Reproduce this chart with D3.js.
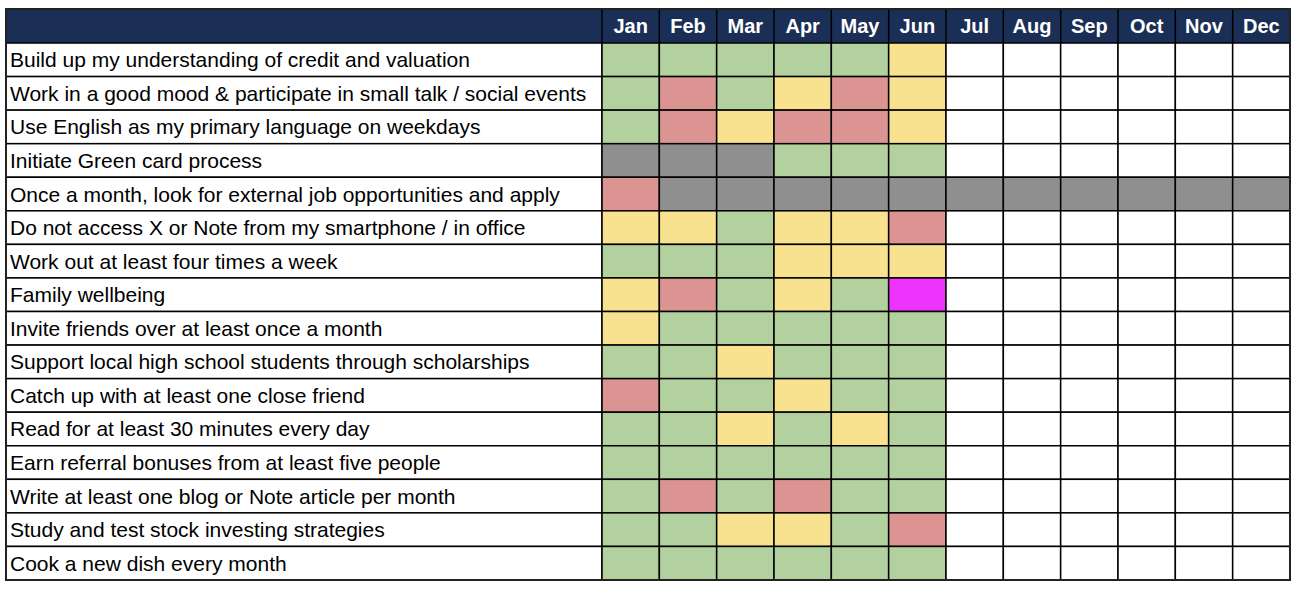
<!DOCTYPE html>
<html><head><meta charset="utf-8">
<script src="https://cdn.jsdelivr.net/npm/d3@7"></script>
<style>body{margin:0;background:#fff;}svg{display:block;}</style>
</head><body>
<svg id="c" width="1299" height="590"></svg>
<script>
const months = ["Jan","Feb","Mar","Apr","May","Jun","Jul","Aug","Sep","Oct","Nov","Dec"];
const goals = [
  "Build up my understanding of credit and valuation",
  "Work in a good mood & participate in small talk / social events",
  "Use English as my primary language on weekdays",
  "Initiate Green card process",
  "Once a month, look for external job opportunities and apply",
  "Do not access X or Note from my smartphone / in office",
  "Work out at least four times a week",
  "Family wellbeing",
  "Invite friends over at least once a month",
  "Support local high school students through scholarships",
  "Catch up with at least one close friend",
  "Read for at least 30 minutes every day",
  "Earn referral bonuses from at least five people",
  "Write at least one blog or Note article per month",
  "Study and test stock investing strategies",
  "Cook a new dish every month"
];
// status per goal per month: G good, Y partial, R missed, X n/a, M special, "" not yet
const status = [
  "GGGGGY","GRGYRY","GRYRRY","XXXGGG","RXXXXXXXXXXX","YYGYYR","GGGYYY","YRGYGM",
  "YGGGGG","GGYGGG","RGGYGG","GGYGYG","GGGGGG","GRGRGG","GGYYGR","GGGGGG"
];
const statusKeys = ["G","Y","R","X","M",""];
const statusColors = ["#b3d09f","#f8e28f","#db9491","#8f8f8f","#ee33ff","#ffffff"];

(function draw() {
const svg = d3.select("#c");
const L = 6, labelW = 596, T = 9, headH = 34, R = 1290, B = 580;
const x = d3.scaleBand().domain(months).range([L + labelW, R]);
const y = d3.scaleBand().domain(goals).range([T + headH, B]);
const color = d3.scaleOrdinal().domain(statusKeys).range(statusColors);

const cells = [];
goals.forEach((g, i) => months.forEach((m, j) => cells.push({g, m, s: status[i][j] || ""})));

svg.append("rect").attr("x", L).attr("y", T).attr("width", R - L).attr("height", headH)
  .attr("fill", "#1b2e55");
svg.selectAll(".mh").data(months).join("text")
  .attr("x", d => x(d) + x.bandwidth() / 2).attr("y", T + headH / 2 + 7)
  .attr("text-anchor", "middle").attr("fill", "#fff")
  .style("font", "bold 20px 'Liberation Sans', Arial, sans-serif").text(d => d);

svg.selectAll(".lab").data(goals).join("rect")
  .attr("x", L).attr("y", d => y(d)).attr("width", labelW).attr("height", y.bandwidth())
  .attr("fill", "#fff").attr("stroke", "#000").attr("stroke-width", 1.5);
svg.selectAll(".lt").data(goals).join("text")
  .attr("x", L + 4).attr("y", d => y(d) + y.bandwidth() / 2 + 7.5)
  .attr("fill", "#000").style("font", "21px 'Liberation Sans', Arial, sans-serif").text(d => d);

svg.selectAll(".cell").data(cells).join("rect")
  .attr("x", d => x(d.m)).attr("y", d => y(d.g))
  .attr("width", x.bandwidth()).attr("height", y.bandwidth())
  .attr("fill", d => color(d.s)).attr("stroke", "#000").attr("stroke-width", 1.5);

svg.selectAll(".hs").data(months).join("line")
  .attr("x1", d => x(d)).attr("x2", d => x(d)).attr("y1", T).attr("y2", T + headH)
  .attr("stroke", "#000").attr("stroke-width", 1.5);
svg.append("rect").attr("x", L).attr("y", T).attr("width", R - L).attr("height", B - T)
  .attr("fill", "none").attr("stroke", "#222").attr("stroke-width", 2);
})();
</script>
</body></html>
